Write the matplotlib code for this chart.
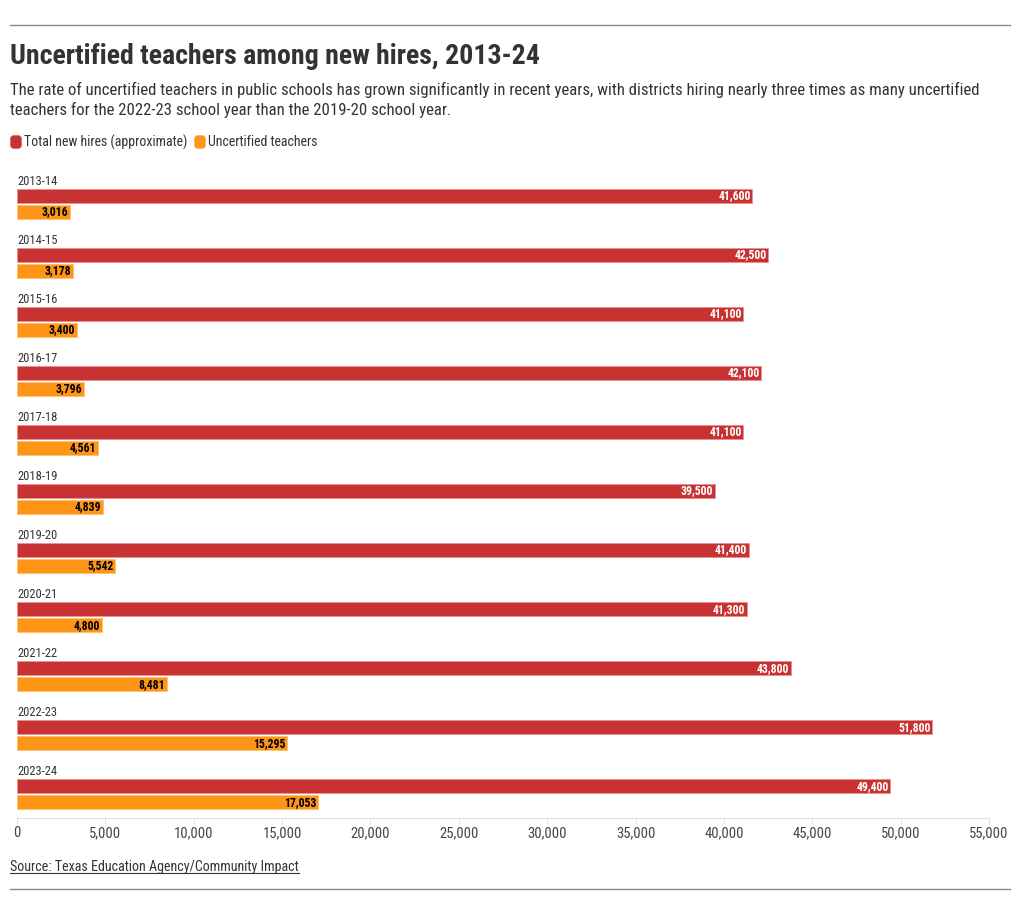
import numpy as np
import matplotlib.pyplot as plt
from matplotlib.patches import FancyBboxPatch
from matplotlib.lines import Line2D

plt.rcParams['font.family'] = ['Roboto Condensed', 'Roboto', 'DejaVu Sans']

# dados
anos = ['2013-14', '2014-15', '2015-16', '2016-17', '2017-18', '2018-19',
        '2019-20', '2020-21', '2021-22', '2022-23', '2023-24']
total = [41600, 42500, 41100, 42100, 41100, 39500, 41400, 41300, 43800, 51800, 49400]
sem_cert = [3016, 3178, 3400, 3796, 4561, 4839, 5542, 4800, 8481, 15295, 17053]
xticks = list(range(0, 55001, 5000))

vermelho = '#C83232'
laranja = '#FF9517'

W, H = 1020, 915
fig = plt.figure(figsize=(W / 100, H / 100), dpi=100)

def fx(px):
    return px / W

def fy(py):
    return 1 - py / H

ax = fig.add_axes([fx(17), fy(818), fx(989) - fx(17), fy(170) - fy(818)])

y = np.arange(len(anos))
off = 16 / 59
h = 14 / 59

ax.barh(y, total, height=h, color=vermelho, edgecolor='#E89090', linewidth=0.6)
ax.barh(y + off, sem_cert, height=h, color=laranja, edgecolor='#FFC070', linewidth=0.6)

for i in range(len(anos)):
    ax.text(total[i] - 90, y[i], f'{total[i]:,}', ha='right', va='center',
            fontsize=8.5, fontweight='bold', color='white')
    ax.text(sem_cert[i] - 90, y[i] + off, f'{sem_cert[i]:,}', ha='right', va='center',
            fontsize=8.5, fontweight='bold', color='black')
    ax.text(0, y[i] - 0.245, anos[i], ha='left', va='center', fontsize=9, color='#333333')

ax.set_xlim(0, 55000)
ax.set_ylim(10 + 0.5 + 0.04, -26 / 59)
ax.set_xticks(xticks)
ax.set_xticklabels([f'{v:,}' for v in xticks], fontsize=10.5, color='#444444')
ax.set_yticks([])
for s in ['top', 'right', 'left']:
    ax.spines[s].set_visible(False)
ax.spines['bottom'].set_color('#e0e0e0')
ax.tick_params(axis='x', length=4, color='#e0e0e0', pad=2)

# linhas de topo e rodapé
fig.add_artist(Line2D([fx(10), fx(1010)], [fy(25), fy(25)], color='#888888', lw=1))
fig.add_artist(Line2D([fx(10), fx(1010)], [fy(889), fy(889)], color='#888888', lw=1))

fig.text(fx(10), fy(57), 'Uncertified teachers among new hires, 2013-24', ha='left', va='center',
         fontsize=20.1, fontweight='bold', color='#333333')
fig.text(fx(10), fy(90), 'The rate of uncertified teachers in public schools has grown significantly in recent years, '
         'with districts hiring nearly three times as many uncertified', ha='left', va='center',
         fontsize=12.1, color='#333333')
fig.text(fx(10), fy(110), 'teachers for the 2022-23 school year than the 2019-20 school year.',
         ha='left', va='center', fontsize=12.1, color='#333333')

# legenda
fig.add_artist(FancyBboxPatch((fx(11), fy(148)), fx(10), fy(136) - fy(148),
                              boxstyle='round,pad=0,rounding_size=0.003', color=vermelho,
                              transform=fig.transFigure))
fig.text(fx(24), fy(142), 'Total new hires (approximate)', ha='left', va='center',
         fontsize=10, color='#333333')
fig.add_artist(FancyBboxPatch((fx(195), fy(148)), fx(10), fy(136) - fy(148),
                              boxstyle='round,pad=0,rounding_size=0.003', color=laranja,
                              transform=fig.transFigure))
fig.text(fx(208), fy(142), 'Uncertified teachers', ha='left', va='center',
         fontsize=10, color='#333333')

fonte = fig.text(fx(10), fy(867), 'Source: Texas Education Agency/Community Impact',
                 ha='left', va='center', fontsize=10.1, color='#333333')
fig.canvas.draw()
bb = fonte.get_window_extent().transformed(fig.transFigure.inverted())
fig.add_artist(Line2D([bb.x0, bb.x1], [bb.y0 + 0.001, bb.y0 + 0.001], color='#333333', lw=0.8))

fig.savefig('out.png', dpi=100)
